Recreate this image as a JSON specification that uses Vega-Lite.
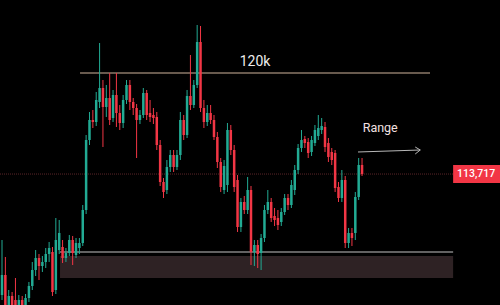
{
  "$schema": "https://vega.github.io/schema/vega-lite/v6.json",
  "width": 500,
  "height": 305,
  "autosize": {"type": "fit", "contains": "padding"},
  "padding": 0,
  "background": "#000000",
  "config": {"view": {"stroke": null}},
  "datasets": {
    "candles": [
      {"i":0,"o":106193,"c":107437,"h":109614,"l":105882},
      {"i":1,"o":107437,"c":105571,"h":108557,"l":105260},
      {"i":2,"o":105571,"c":106131,"h":106504,"l":105260},
      {"i":3,"o":106131,"c":105384,"h":106380,"l":105136},
      {"i":4,"o":105882,"c":105260,"h":107250,"l":105136},
      {"i":5,"o":105384,"c":105882,"h":106193,"l":105136},
      {"i":6,"o":105882,"c":105384,"h":106131,"l":105136},
      {"i":7,"o":105509,"c":106006,"h":106255,"l":105260},
      {"i":8,"o":106006,"c":106753,"h":107002,"l":105758},
      {"i":9,"o":106753,"c":107748,"h":108246,"l":106504},
      {"i":10,"o":107748,"c":108494,"h":108992,"l":107375},
      {"i":11,"o":108494,"c":107997,"h":108743,"l":107126},
      {"i":12,"o":107997,"c":108246,"h":108619,"l":107624},
      {"i":13,"o":108246,"c":108743,"h":109116,"l":107872},
      {"i":14,"o":108743,"c":109116,"h":109490,"l":108246},
      {"i":15,"o":108868,"c":106380,"h":109179,"l":106131},
      {"i":16,"o":106504,"c":109614,"h":110982,"l":106255},
      {"i":17,"o":108992,"c":110049,"h":110858,"l":108743},
      {"i":18,"o":109179,"c":108494,"h":109614,"l":108183},
      {"i":19,"o":108494,"c":108805,"h":109116,"l":108246},
      {"i":20,"o":108805,"c":109614,"h":109925,"l":108619},
      {"i":21,"o":109614,"c":108805,"h":109863,"l":108059},
      {"i":22,"o":108681,"c":109427,"h":109738,"l":108494},
      {"i":23,"o":109116,"c":109427,"h":109738,"l":108743},
      {"i":24,"o":109427,"c":111480,"h":111791,"l":109241},
      {"i":25,"o":111480,"c":115834,"h":116145,"l":111231},
      {"i":26,"o":115834,"c":117078,"h":117576,"l":115523},
      {"i":27,"o":117078,"c":116954,"h":117700,"l":116580},
      {"i":28,"o":116954,"c":118322,"h":118820,"l":116705},
      {"i":29,"o":118198,"c":119068,"h":121867,"l":117824},
      {"i":30,"o":119068,"c":117887,"h":119566,"l":115399},
      {"i":31,"o":117887,"c":118446,"h":119255,"l":117265},
      {"i":32,"o":118446,"c":117078,"h":120001,"l":116767},
      {"i":33,"o":117202,"c":118633,"h":118944,"l":116954},
      {"i":34,"o":118633,"c":117513,"h":120001,"l":116643},
      {"i":35,"o":117513,"c":116891,"h":118011,"l":116456},
      {"i":36,"o":116891,"c":118322,"h":118633,"l":116580},
      {"i":37,"o":118322,"c":119255,"h":119566,"l":118073},
      {"i":38,"o":119255,"c":118198,"h":119566,"l":117700},
      {"i":39,"o":118198,"c":117824,"h":118446,"l":117389},
      {"i":40,"o":117824,"c":117078,"h":118073,"l":114714},
      {"i":41,"o":117078,"c":117389,"h":117700,"l":116829},
      {"i":42,"o":117389,"c":118757,"h":119068,"l":117202},
      {"i":43,"o":118757,"c":117389,"h":118944,"l":117078},
      {"i":44,"o":117513,"c":117265,"h":118322,"l":116954},
      {"i":45,"o":117389,"c":117202,"h":117824,"l":116829},
      {"i":46,"o":117265,"c":115523,"h":117576,"l":115212},
      {"i":47,"o":115523,"c":113222,"h":115834,"l":112973},
      {"i":48,"o":113222,"c":112600,"h":113470,"l":112226},
      {"i":49,"o":112724,"c":114155,"h":114590,"l":112475},
      {"i":50,"o":114155,"c":114901,"h":115212,"l":113844},
      {"i":51,"o":114901,"c":114155,"h":115212,"l":113844},
      {"i":52,"o":114155,"c":114901,"h":115212,"l":113968},
      {"i":53,"o":114901,"c":117078,"h":117576,"l":114590},
      {"i":54,"o":117078,"c":116145,"h":117389,"l":115834},
      {"i":55,"o":116145,"c":118571,"h":118944,"l":115958},
      {"i":56,"o":118571,"c":118011,"h":121121,"l":117700},
      {"i":57,"o":118011,"c":119255,"h":119566,"l":117824},
      {"i":58,"o":119255,"c":121930,"h":122987,"l":119068},
      {"i":59,"o":121930,"c":117824,"h":122925,"l":117576},
      {"i":60,"o":117824,"c":116954,"h":118322,"l":116580},
      {"i":61,"o":116954,"c":117513,"h":118011,"l":116705},
      {"i":62,"o":117513,"c":117078,"h":118011,"l":116829},
      {"i":63,"o":117078,"c":116021,"h":117389,"l":115834},
      {"i":64,"o":116021,"c":114466,"h":116332,"l":114092},
      {"i":65,"o":114466,"c":112911,"h":114714,"l":112600},
      {"i":66,"o":112724,"c":114217,"h":114590,"l":112475},
      {"i":67,"o":113035,"c":116456,"h":116891,"l":112600},
      {"i":68,"o":116456,"c":115212,"h":116767,"l":114901},
      {"i":69,"o":115212,"c":112911,"h":115523,"l":112600},
      {"i":70,"o":113346,"c":110423,"h":113657,"l":110112},
      {"i":71,"o":110423,"c":111978,"h":112226,"l":110112},
      {"i":72,"o":111978,"c":111480,"h":112351,"l":111231},
      {"i":73,"o":111480,"c":112724,"h":113533,"l":111231},
      {"i":74,"o":112724,"c":108868,"h":112973,"l":108059},
      {"i":75,"o":108868,"c":109303,"h":109614,"l":107997},
      {"i":76,"o":109303,"c":108743,"h":109614,"l":107872},
      {"i":77,"o":108805,"c":109738,"h":109987,"l":107748},
      {"i":78,"o":109738,"c":111480,"h":111791,"l":109490},
      {"i":79,"o":111480,"c":111978,"h":112724,"l":111231},
      {"i":80,"o":111978,"c":110982,"h":112226,"l":110734},
      {"i":81,"o":111107,"c":110858,"h":111604,"l":110485},
      {"i":82,"o":110982,"c":110547,"h":111480,"l":110236},
      {"i":83,"o":110734,"c":111356,"h":111604,"l":110485},
      {"i":84,"o":111356,"c":112226,"h":112475,"l":111169},
      {"i":85,"o":112226,"c":111791,"h":112475,"l":111480},
      {"i":86,"o":111791,"c":113035,"h":113346,"l":111604},
      {"i":87,"o":112724,"c":113968,"h":114279,"l":112413},
      {"i":88,"o":113968,"c":115336,"h":115585,"l":113719},
      {"i":89,"o":115336,"c":115834,"h":116456,"l":115088},
      {"i":90,"o":115896,"c":115647,"h":116083,"l":115336},
      {"i":91,"o":115710,"c":115025,"h":115958,"l":114714},
      {"i":92,"o":115088,"c":115834,"h":116083,"l":114839},
      {"i":93,"o":115647,"c":116456,"h":116767,"l":115461},
      {"i":94,"o":116083,"c":116580,"h":117389,"l":115834},
      {"i":95,"o":116456,"c":116705,"h":117202,"l":116207},
      {"i":96,"o":116643,"c":115399,"h":116954,"l":115088},
      {"i":97,"o":115647,"c":114777,"h":115958,"l":114466},
      {"i":98,"o":115088,"c":114590,"h":115336,"l":114279},
      {"i":99,"o":115025,"c":112848,"h":115212,"l":112600},
      {"i":100,"o":112911,"c":112226,"h":113222,"l":111978},
      {"i":101,"o":112226,"c":113346,"h":113968,"l":111978},
      {"i":102,"o":113346,"c":109427,"h":113595,"l":109116},
      {"i":103,"o":109427,"c":110049,"h":110360,"l":109116},
      {"i":104,"o":110049,"c":109738,"h":110360,"l":109241},
      {"i":105,"o":110049,"c":112289,"h":112600,"l":109614},
      {"i":106,"o":112289,"c":114279,"h":114714,"l":112102},
      {"i":107,"o":114279,"c":113717,"h":114714,"l":113595}
    ]
  },
  "layer": [
    {
      "data": {"values": [{"a": 17.24, "b": 134.07, "top": 108619, "bot": 107250}]},
      "mark": {"type": "rect", "color": "#2e2224", "clip": true},
      "encoding": {
        "x": {"field": "a", "type": "quantitative", "scale": {"domain": [-0.595, 148], "nice": false, "zero": false, "padding": 0}, "axis": null},
        "x2": {"field": "b"},
        "y": {"field": "top", "type": "quantitative", "scale": {"domain": [105571, 124542], "nice": false, "zero": false, "padding": 0}, "axis": null},
        "y2": {"field": "bot"}
      }
    },
    {
      "data": {"values": [{"a": 17.24, "b": 134.07, "p": 108868}]},
      "mark": {"type": "rule", "color": "#c4c4c4", "strokeWidth": 1.2, "clip": true},
      "encoding": {
        "x": {"field": "a", "type": "quantitative"},
        "x2": {"field": "b"},
        "y": {"field": "p", "type": "quantitative"}
      }
    },
    {
      "data": {"values": [{"a": 23.19, "b": 127.2, "p": 120001}]},
      "mark": {"type": "rule", "color": "#8b7868", "strokeWidth": 1.5, "clip": true},
      "encoding": {
        "x": {"field": "a", "type": "quantitative"},
        "x2": {"field": "b"},
        "y": {"field": "p", "type": "quantitative"}
      }
    },
    {
      "data": {"values": [{"a": -0.595, "b": 134.07, "p": 113717}]},
      "mark": {"type": "rule", "color": "#5a2529", "strokeWidth": 1, "strokeDash": [1, 1], "clip": true},
      "encoding": {
        "x": {"field": "a", "type": "quantitative"},
        "x2": {"field": "b"},
        "y": {"field": "p", "type": "quantitative"}
      }
    },
    {
      "data": {"name": "candles"},
      "mark": {"type": "rule", "strokeWidth": 1, "clip": true},
      "encoding": {
        "x": {"field": "i", "type": "quantitative"},
        "y": {"field": "l", "type": "quantitative"},
        "y2": {"field": "h"},
        "color": {"condition": {"test": "datum.c >= datum.o", "value": "#22ab94"}, "value": "#f23645"}
      }
    },
    {
      "data": {"name": "candles"},
      "mark": {"type": "bar", "width": 2.5, "clip": true},
      "encoding": {
        "x": {"field": "i", "type": "quantitative"},
        "y": {"field": "o", "type": "quantitative"},
        "y2": {"field": "c"},
        "color": {"condition": {"test": "datum.c >= datum.o", "value": "#22ab94"}, "value": "#f23645"}
      }
    },
    {
      "data": {"values": [{"x": 75.2, "p": 120686, "t": "120k"}]},
      "mark": {"type": "text", "color": "#ececec", "fontSize": 14, "font": "Roboto", "align": "center", "baseline": "middle"},
      "encoding": {
        "x": {"field": "x", "type": "quantitative"},
        "y": {"field": "p", "type": "quantitative"},
        "text": {"field": "t"}
      }
    },
    {
      "data": {"values": [{"x": 112.4, "p": 116580, "t": "Range"}]},
      "mark": {"type": "text", "color": "#f3e1e1", "fontSize": 12.5, "font": "Roboto", "align": "center", "baseline": "middle"},
      "encoding": {
        "x": {"field": "x", "type": "quantitative"},
        "y": {"field": "p", "type": "quantitative"},
        "text": {"field": "t"}
      }
    },
    {
      "data": {"values": [
        {"seg": "shaft", "k": 0, "x": 105.8, "p": 115088},
        {"seg": "shaft", "k": 1, "x": 124.3, "p": 115212},
        {"seg": "head", "k": 0, "x": 122.8, "p": 115399},
        {"seg": "head", "k": 1, "x": 124.3, "p": 115212},
        {"seg": "head", "k": 2, "x": 122.8, "p": 114963}
      ]},
      "mark": {"type": "line", "color": "#b8b8b8", "strokeWidth": 1, "clip": true},
      "encoding": {
        "x": {"field": "x", "type": "quantitative"},
        "y": {"field": "p", "type": "quantitative"},
        "detail": {"field": "seg"},
        "order": {"field": "k"}
      }
    },
    {
      "data": {"values": [{"a": 134.07, "b": 148, "top": 114279, "bot": 113159}]},
      "mark": {"type": "rect", "color": "#f23645", "clip": true},
      "encoding": {
        "x": {"field": "a", "type": "quantitative"},
        "x2": {"field": "b"},
        "y": {"field": "top", "type": "quantitative"},
        "y2": {"field": "bot"}
      }
    },
    {
      "data": {"values": [{"x": 140.9, "p": 113717, "t": "113,717"}]},
      "mark": {"type": "text", "color": "#ffffff", "fontSize": 10.5, "font": "Roboto", "fontWeight": 500, "align": "center", "baseline": "middle"},
      "encoding": {
        "x": {"field": "x", "type": "quantitative"},
        "y": {"field": "p", "type": "quantitative"},
        "text": {"field": "t"}
      }
    }
  ]
}
